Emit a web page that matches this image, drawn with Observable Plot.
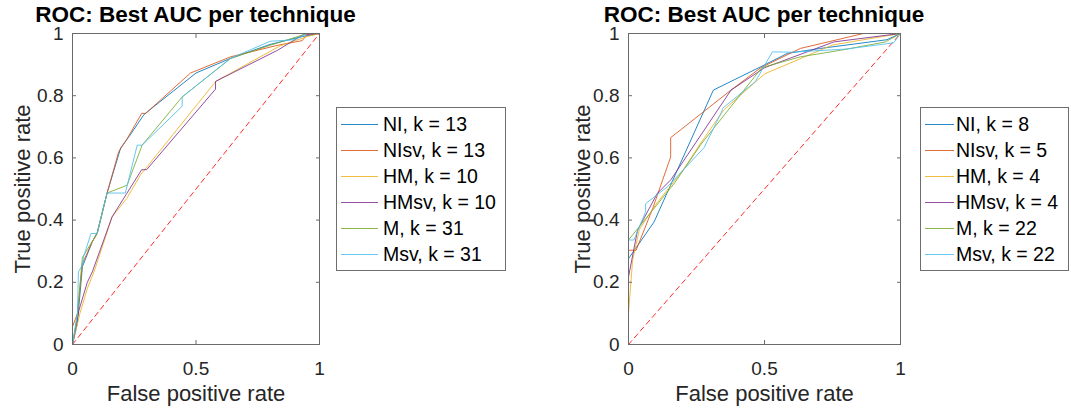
<!DOCTYPE html>
<html>
<head>
<meta charset="utf-8">
<script src="https://cdn.jsdelivr.net/npm/d3@7"></script>
<script src="https://cdn.jsdelivr.net/npm/@observablehq/plot@0.6"></script>
<style>
  html, body { margin: 0; padding: 0; background: #fff; }
  #page { position: relative; width: 1071px; height: 409px; overflow: hidden; background: #fff;
          font-family: "Liberation Sans", Arial, Helvetica, sans-serif; }
  .panel { position: absolute; top: 0; }
  .title { position: absolute; top: 7px; height: 16px; line-height: 16px; font-weight: bold; font-size: 22.5px; color: #000; text-align: center; white-space: nowrap; }
  .legend { position: absolute; border: 1px solid #6e6e6e; background: #fff; box-sizing: border-box; }
  .row { position: absolute; left: 0; height: 26px; white-space: nowrap; font-size: 19.5px; color: #000; }
  .row svg { position: absolute; top: 0; }
  .row span { position: absolute; top: 1px; line-height: 24px; }
</style>
</head>
<body>
<div id="page"></div>
<script>
// ---------- data ----------
const techniques = ["NI", "NIsv", "HM", "HMsv", "M", "Msv"];
const palette = ["#0072BD", "#D95319", "#EDB120", "#7E2F8E", "#77AC30", "#4DBEEE"];
const chartTitle = "ROC: Best AUC per technique";
const xLabel = "False positive rate";
const yLabel = "True positive rate";
const xTicks = [0, 0.5, 1];
const yTicks = [0, 0.2, 0.4, 0.6, 0.8, 1];
const chanceLine = [[0, 0], [1, 1]];

const leftK = [13, 13, 10, 10, 31, 31];
const rightK = [8, 5, 4, 4, 22, 22];

// left panel [fpr, tpr]
const L_NI = [[0,0],[0.02,0.07],[0.04,0.25],[0.08,0.33],[0.1,0.36],[0.14,0.487],[0.195,0.632],[0.23,0.67],[0.29,0.74],[0.5,0.873],[0.64,0.92],[0.8,0.965],[0.93,0.99],[1,1]];
const L_NIsv = [[0,0.057],[0.02,0.1],[0.04,0.26],[0.08,0.33],[0.1,0.357],[0.14,0.487],[0.187,0.62],[0.22,0.66],[0.28,0.743],[0.296,0.743],[0.478,0.873],[0.64,0.925],[0.83,0.962],[0.93,0.977],[0.95,0.997],[1,1]];
const L_HM = [[0,0],[0.03,0.1],[0.06,0.18],[0.09,0.24],[0.16,0.41],[0.22,0.47],[0.275,0.545],[0.58,0.846],[0.84,0.96],[0.95,0.99],[1,1]];
const L_HMsv = [[0,0],[0.026,0.11],[0.06,0.2],[0.08,0.233],[0.16,0.41],[0.22,0.486],[0.28,0.562],[0.3,0.562],[0.579,0.821],[0.579,0.846],[0.83,0.946],[0.936,0.997],[1,1]];
const L_M = [[0,0],[0.02,0.1],[0.04,0.28],[0.1,0.357],[0.14,0.487],[0.221,0.512],[0.282,0.641],[0.444,0.796],[0.64,0.92],[0.8,0.962],[0.95,1],[1,1]];
const L_Msv = [[0,0],[0.02,0.1],[0.024,0.233],[0.039,0.255],[0.046,0.285],[0.075,0.357],[0.1,0.357],[0.14,0.487],[0.214,0.487],[0.262,0.641],[0.282,0.641],[0.444,0.766],[0.444,0.796],[0.64,0.92],[0.8,0.975],[0.9,0.98],[0.95,1],[1,1]];

// right panel [fpr, tpr]
const R_NI = [[0,0],[0,0.276],[0.094,0.394],[0.174,0.55],[0.312,0.818],[0.486,0.893],[0.584,0.936],[0.706,0.952],[0.95,0.98],[1,1]];
const R_NIsv = [[0,0],[0,0.303],[0.028,0.303],[0.09,0.44],[0.155,0.603],[0.155,0.665],[0.377,0.818],[0.486,0.89],[0.632,0.952],[0.864,1],[1,1]];
const R_HM = [[0,0],[0,0.1],[0.015,0.27],[0.04,0.37],[0.1,0.45],[0.2,0.56],[0.266,0.648],[0.35,0.754],[0.5,0.87],[0.75,0.963],[1,1]];
const R_HMsv = [[0,0],[0,0.217],[0.033,0.367],[0.106,0.486],[0.156,0.53],[0.377,0.818],[0.5,0.89],[0.755,0.973],[1,1]];
const R_M = [[0,0],[0,0.336],[0.17,0.52],[0.265,0.642],[0.49,0.89],[0.632,0.925],[0.779,0.946],[0.945,0.973],[1,1]];
const R_Msv = [[0,0],[0,0.336],[0.02,0.336],[0.063,0.427],[0.063,0.453],[0.143,0.507],[0.278,0.633],[0.345,0.753],[0.345,0.759],[0.466,0.845],[0.529,0.941],[0.6,0.94],[0.8,0.95],[0.975,0.97],[1,1]];

const leftSeries = [L_NI, L_NIsv, L_HM, L_HMsv, L_M, L_Msv];
const rightSeries = [R_NI, R_NIsv, R_HM, R_HMsv, R_M, R_Msv];

// ---------- drawing ----------
const page = document.getElementById("page");

function rows(seriesList) {
  const out = [];
  seriesList.forEach((s, i) => s.forEach(([fpr, tpr]) => out.push({fpr, tpr, technique: techniques[i]})));
  return out;
}

function panel({left, width, marginLeft, marginRight, series}) {
  const axisColor = "#262626";
  const chart = Plot.plot({
    width, height: 409,
    marginLeft, marginRight, marginTop: 33, marginBottom: 65,
    x: {domain: [0, 1]},
    y: {domain: [0, 1]},
    color: {domain: techniques, range: palette},
    style: {fontFamily: '"Liberation Sans", Arial, sans-serif', fontSize: "19px", color: axisColor, background: "transparent", overflow: "visible"},
    marks: [
      Plot.line(chanceLine, {x: d => d[0], y: d => d[1], stroke: "#ff2b2b", strokeDasharray: "5,4", strokeWidth: 1}),
      Plot.line(rows(series), {x: "fpr", y: "tpr", z: "technique", stroke: "technique", strokeWidth: 1, strokeOpacity: 0.85, curve: "linear"}),
      Plot.frame({stroke: "#6a6a6a", strokeWidth: 1}),
      Plot.axisX({ticks: xTicks, tickSize: -4, tickPadding: 21, tickFormat: d => String(d), label: null, stroke: "#6a6a6a", fill: axisColor}),
      Plot.axisX({anchor: "top", ticks: xTicks, tickSize: -4, tickFormat: () => "", label: null, stroke: "#6a6a6a"}),
      Plot.axisY({ticks: yTicks, tickSize: -4, tickPadding: 13, tickFormat: d => String(d), label: null, stroke: "#6a6a6a", fill: axisColor}),
      Plot.axisY({anchor: "right", ticks: yTicks, tickSize: -4, tickFormat: () => "", label: null, stroke: "#6a6a6a"}),
      Plot.text([xLabel], {text: d => d, frameAnchor: "bottom", dy: 49, fontSize: 22, fill: axisColor, lineAnchor: "middle"}),
      Plot.text([yLabel], {text: d => d, frameAnchor: "left", dx: -(marginLeft - 22), rotate: -90, fontSize: 22, fill: axisColor, textAnchor: "middle", lineAnchor: "middle"})
    ]
  });
  const wrap = document.createElement("div");
  wrap.className = "panel";
  wrap.style.left = left + "px";
  wrap.appendChild(chart);
  page.appendChild(wrap);
}

function title(centerX) {
  const t = document.createElement("div");
  t.className = "title";
  t.textContent = chartTitle;
  t.style.left = (centerX - 200) + "px";
  t.style.width = "400px";
  page.appendChild(t);
}

function legend({left, top, width, height, lineLen, textX, ks}) {
  const box = document.createElement("div");
  box.className = "legend";
  Object.assign(box.style, {left: left + "px", top: top + "px", width: width + "px", height: height + "px"});
  techniques.forEach((name, i) => {
    const r = document.createElement("div");
    r.className = "row";
    r.style.top = (3 + 26 * i) + "px";
    r.style.width = width + "px";
    r.innerHTML = `<svg width="${textX}" height="26"><line x1="4" x2="${4 + lineLen}" y1="13.5" y2="13.5" stroke="${palette[i]}" stroke-width="1" stroke-opacity="0.85"/></svg><span style="left:${textX}px">${name}, k = ${ks[i]}</span>`;
    box.appendChild(r);
  });
  page.appendChild(box);
}

panel({left: 0, width: 330, marginLeft: 72, marginRight: 11, series: leftSeries});
panel({left: 560, width: 350, marginLeft: 68, marginRight: 10, series: rightSeries});
title(195.5);
title(764);
legend({left: 336, top: 107, width: 170, height: 164, lineLen: 37, textX: 46, ks: leftK});
legend({left: 920, top: 107, width: 149, height: 164, lineLen: 29, textX: 35, ks: rightK});
</script>
</body>
</html>
